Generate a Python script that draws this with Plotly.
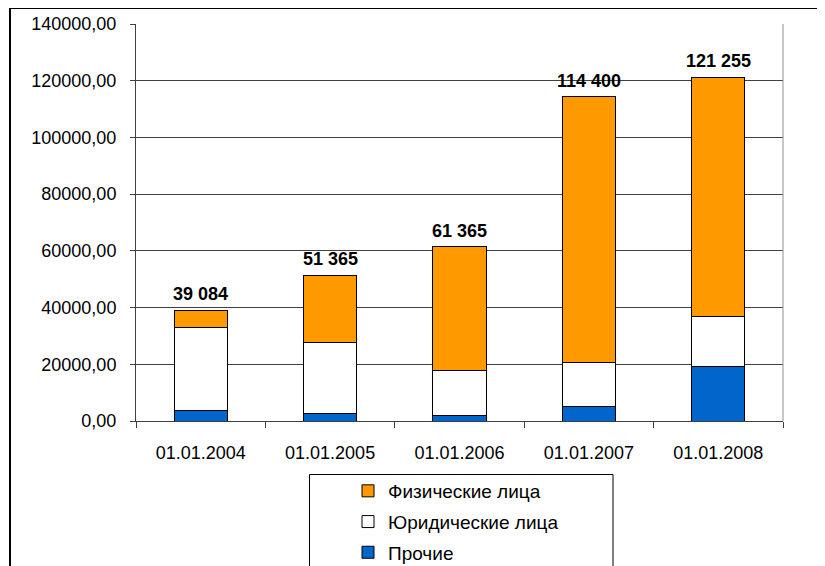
import plotly.graph_objects as go

categories = ["01.01.2004", "01.01.2005", "01.01.2006", "01.01.2007", "01.01.2008"]
prochie = [3800, 2500, 2000, 5000, 19100]
yuridicheskie = [29000, 25200, 15900, 15500, 17800]
fizicheskie = [6284, 23665, 43465, 93900, 84355]
totals = [39084, 51365, 61365, 114400, 121255]
tick_vals = [0, 20000, 40000, 60000, 80000, 100000, 120000, 140000]
tick_text = ["0,00", "20000,00", "40000,00", "60000,00", "80000,00", "100000,00", "120000,00", "140000,00"]

OFF = 8  # page body margin
W, H = 825 - OFF, 566 - OFF
# plot area in screen pixels
SL, SR, ST, SB = 136, 783, 24, 421
L, R, T, B = SL - OFF, SR - OFF, ST - OFF, SB - OFF
pw, ph = R - L, B - T


def px(x):  # screen x -> paper
    return (x - OFF - L) / pw


def py(y):  # screen y -> paper
    return (B - (y - OFF)) / ph


FONT = "Liberation Sans, Arial, sans-serif"
fig = go.Figure()
series = [("Прочие", prochie, "#0066CC", 3),
          ("Юридические лица", yuridicheskie, "#FFFFFF", 2),
          ("Физические лица", fizicheskie, "#FF9900", 1)]
for name, vals, col, rank in series:
    fig.add_trace(go.Bar(x=categories, y=vals, name=name, legendgroup=name, legendrank=rank,
                         marker=dict(color=col, line=dict(color="#000000", width=1))))

for c, t in zip(categories, totals):
    fig.add_annotation(x=c, y=t, text="<b>" + f"{t:,}".replace(",", " ") + "</b>",
                       showarrow=False, yanchor="bottom", yshift=4,
                       font=dict(family=FONT, size=18, color="#000000"))

fig.update_layout(
    width=W, height=H,
    margin=dict(l=L, r=W - R, t=T, b=H - B, pad=0, autoexpand=False),
    paper_bgcolor="white", plot_bgcolor="white",
    barmode="stack", bargap=0.59,
    font=dict(family=FONT, size=18, color="#000000"),
    legend=dict(x=px(348), y=py(472), xanchor="left", yanchor="top",
                traceorder="grouped", tracegroupgap=3,
                bgcolor="rgba(0,0,0,0)", borderwidth=0, itemwidth=30,
                font=dict(family=FONT, size=19)),
    showlegend=True,
)
fig.update_xaxes(showgrid=False, showline=True, linecolor="#404040", linewidth=1,
                 ticks="outside", tickson="boundaries", ticklen=6, tickcolor="#404040",
                 ticklabelstandoff=15, range=[-0.5, 4.5])
fig.update_yaxes(range=[0, 140000], tickvals=tick_vals, ticktext=tick_text,
                 showgrid=True, gridcolor="#404040", gridwidth=1,
                 showline=True, linecolor="#404040", linewidth=1,
                 ticks="outside", ticklen=5, tickcolor="#404040",
                 ticklabelstandoff=10, zeroline=False)

# plot area right edge
fig.add_shape(type="line", xref="paper", yref="paper", x0=1, x1=1, y0=0, y1=1,
              line=dict(color="#909090", width=1))
# outer chart frame (left and top edges)
fig.add_shape(type="line", xref="paper", yref="paper", x0=px(10), x1=px(10), y0=py(8), y1=py(600),
              line=dict(color="#000000", width=2))
fig.add_shape(type="line", xref="paper", yref="paper", x0=px(10), x1=px(830), y0=py(8), y1=py(8),
              line=dict(color="#000000", width=2))
# legend frame
fig.add_shape(type="rect", xref="paper", yref="paper", x0=px(309.5), x1=px(613), y0=py(474.5), y1=py(600),
              line=dict(color="#000000", width=1), fillcolor="rgba(0,0,0,0)")

fig.write_html("out.html")
